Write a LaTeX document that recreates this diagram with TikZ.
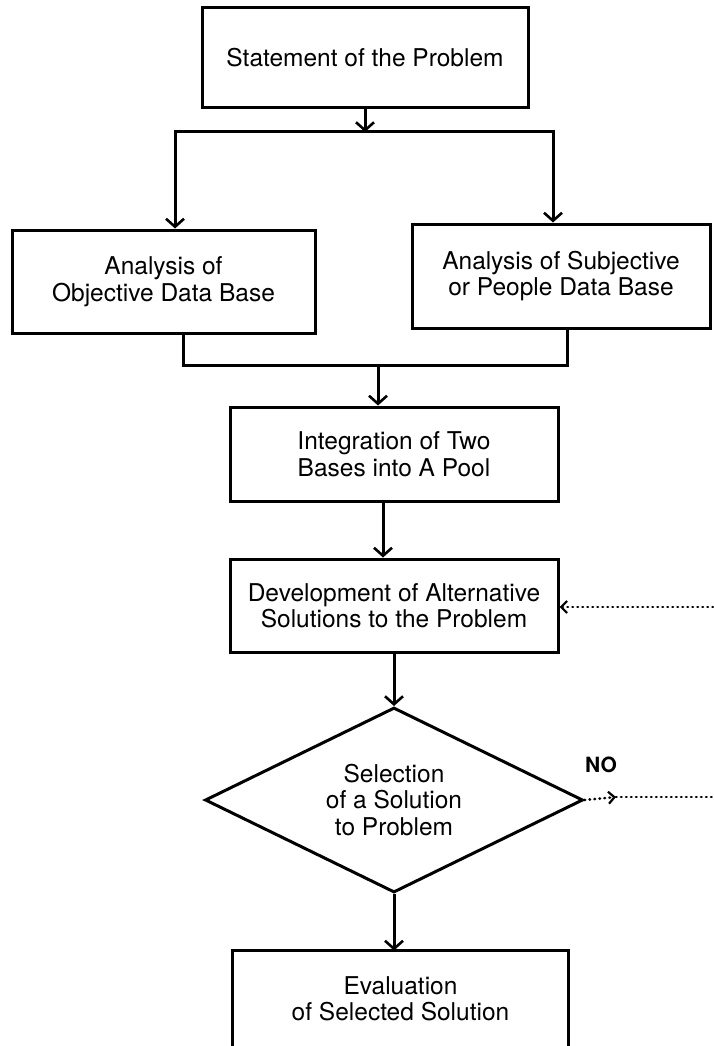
\documentclass[tikz,border=0pt]{standalone}
\usepackage{fontspec}
\setmainfont{TeX Gyre Heros}
\usetikzlibrary{shapes.geometric,arrows.meta}
\begin{document}
\begin{tikzpicture}[x=1pt,y=-1pt,
  box/.style={draw,line width=3pt,align=center,inner sep=0pt,font=\fontsize{24.5}{26.5}\selectfont},
  link/.style={line width=3pt},
  flow/.style={link,-{Straight Barb[length=8pt,width=18pt,line width=2.6pt]}},
  split/.style={link,{Straight Barb[length=8pt,width=18pt,line width=2.6pt]}-{Straight Barb[length=8pt,width=18pt,line width=2.6pt]}},
  back/.style={line width=2.6pt,line cap=round,dash pattern=on 0.6pt off 4.4pt},
  backtip/.style={-{Straight Barb[length=6pt,width=12pt,line width=2.2pt]}}]
\useasboundingbox (0,0) rectangle (713,1046);
\node[box,minimum width=326pt,minimum height=100pt] (stmt) at (365,58) {Statement of the Problem};
\node[box,minimum width=303pt,minimum height=103pt] (objb) at (163.5,281.5) {Analysis of\\Objective Data Base};
\node[box,minimum width=298pt,minimum height=104pt] (subj) at (561,276) {Analysis of Subjective\\or People Data Base};
\node[box,minimum width=328pt,minimum height=94pt] (integ) at (394,454) {Integration of Two\\Bases into A Pool};
\node[box,minimum width=328pt,minimum height=93pt] (devel) at (394,605.5) {Development of Alternative\\Solutions to the Problem};
\node[box,diamond,aspect=2.04,minimum width=378pt,minimum height=185pt] (sel) at (394,800) {Selection\\of a Solution\\to Problem};
\node[box,draw=none,minimum width=333pt,minimum height=94pt] (eval) at (400.5,999) {Evaluation\\of Selected Solution};
\node[font=\fontsize{21}{21}\selectfont\bfseries] (no) at (601,765) {NO};

\coordinate (forkL) at (175,132);
\coordinate (forkR) at (553,132);
\coordinate (joinL) at (183,365);
\coordinate (joinR) at (567,365);
\coordinate (joinM) at (378,365);
\coordinate (loopin) at (713,607);
\coordinate (nomid) at (616,797);
\coordinate (loopout) at (713,797);

\draw[link] ([yshift=-20pt]eval.south west) -- (eval.north west) -- (eval.north east) -- ([yshift=-20pt]eval.south east);
\draw[flow] (stmt.south) -- (stmt.south |- forkL);
\draw[split] (forkL |- objb.north) -- (forkL) -- (forkR) -- (forkR |- subj.north);
\draw[link] (objb.south -| joinL) -- (joinL) -- (joinR) -- (subj.south -| joinR);
\draw[flow] (joinM) -- (joinM |- integ.north);
\draw[flow] ([xshift=-11pt]integ.south) -- ([xshift=-11pt]integ.south |- devel.north);
\draw[flow] (devel.south) -- (sel.north);
\draw[flow] (sel.south) -- (sel.south |- eval.north);
\draw[back,backtip] (loopin) -- (loopin -| devel.east);
\draw[back,backtip] (sel.east) -- (nomid);
\draw[back] (nomid) -- (loopout);
\end{tikzpicture}
\end{document}
